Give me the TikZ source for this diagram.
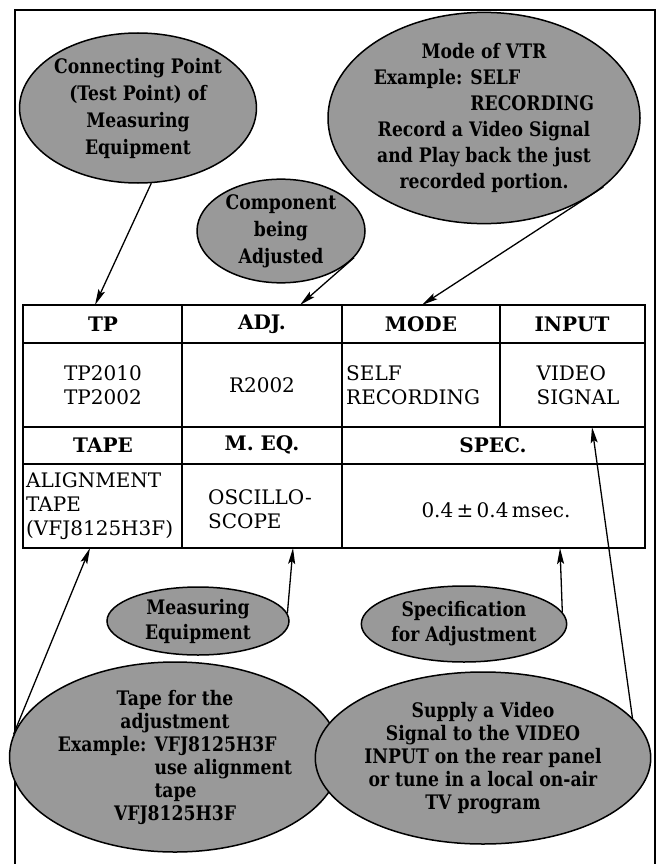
\documentclass[tikz,border=0pt]{standalone}
\usepackage{fontspec}
\setmainfont{DejaVu Serif}
\newfontfamily\notefont[FakeStretch=0.86]{DejaVu Serif}
\usepackage{tikz}
\usepackage{calc}
\usetikzlibrary{shapes}
\usetikzlibrary{arrows.meta}
\tikzstyle{note}=[ellipse,draw,line width=1.5pt,fill=black!40,inner sep=0pt,align=center,font=\notefont\fontsize{20}{25}\selectfont\bfseries]
\tikzstyle{cell}=[inner sep=0pt,align=center,font=\fontsize{20}{24}\selectfont]
\tikzstyle{head}=[cell,font=\fontsize{20}{24}\selectfont\bfseries]
\tikzstyle{rule}=[line width=1.5pt]
\newcommand{\ExLine}[2]{\makebox[\widthof{#2}][l]{#1}}

\begin{document}
\begin{tikzpicture}
	[x=1pt,y=-1pt,>={Stealth[length=16pt,width=7pt,inset=3pt]}]
	\tikzstyle{arrow}=[->,line width=1.3pt];
	\useasboundingbox (0,0) rectangle (662,864);
	% frame
	\draw[rule] (15,870) |- (655,10) -- (655,870);
	% table
	\draw[rule] (23,305) rectangle (645,548);
	\draw[rule] (23,343) -- (645,343);
	\draw[rule] (23,427) -- (645,427);
	\draw[rule] (23,464) -- (645,464);
	\draw[rule] (182,305) -- (182,548);
	\draw[rule] (342,305) -- (342,548);
	\draw[rule] (500,305) -- (500,427);
	\node[head] (tph) at (103,324) {TP};
	\node[head] (adjh) at (262,324) {ADJ.};
	\node[head] (modeh) at (421,324) {MODE};
	\node[head] (inh) at (572,324) {INPUT};
	\node[cell] (tpv) at (103,385) {TP2010\\TP2002};
	\node[cell] (adjv) at (262,385) {R2002};
	\node[cell,align=left,anchor=west] (modev) at (346,385) {SELF\\RECORDING};
	\node[cell,align=left] (inv) at (578,385) {VIDEO\\SIGNAL};
	\node[head] (tapeh) at (103,445) {TAPE};
	\node[head] (meqh) at (262,445) {M. EQ.};
	\node[head] (spech) at (493,445) {SPEC.};
	\node[cell,align=left,anchor=west] (tapev) at (26,506) {ALIGNMENT\\TAPE\\(VFJ8125H3F)};
	\node[cell,align=left] (meqv) at (260,509) {OSCILLO-\\SCOPE};
	\node[cell] (specv) at (496,510) {0.4\,±\,0.4\,msec.};
	% ends of the pointers
	\coordinate (tptop) at (95,305);
	\coordinate (adjtop) at (300,305);
	\coordinate (modetop) at (422,305);
	\coordinate (inbot) at (592,427);
	\coordinate (tapebot) at (90,548);
	\coordinate (meqbot) at (293,548);
	\coordinate (specbot) at (560,548);
	% notes
	\node[note,minimum width=212pt,minimum height=150pt,font=\notefont\fontsize{20}{27}\selectfont\bfseries] (tpnote) at (138,108)
		{Connecting Point\\(Test Point) of\\Measuring\\Equipment};
	\node[note,minimum width=168pt,minimum height=102pt,font=\notefont\fontsize{20}{27}\selectfont\bfseries] (adjnote) at (281,231)
		{Component\\being\\Adjusted};
	\node[note,minimum width=312pt,minimum height=180pt,font=\notefont\fontsize{20}{26}\selectfont\bfseries] (modenote) at (484,118)
		{Mode of VTR\\
		\ExLine{Example: SELF}{Example: RECORDING}\\
		\ExLine{\phantom{Example: }RECORDING}{Example: RECORDING}\\
		Record a Video Signal\\and Play back the just\\recorded portion.};
	\node[note,minimum width=182pt,minimum height=68pt] (meqnote) at (198,621)
		{Measuring\\Equipment};
	\node[note,minimum width=198pt,minimum height=76pt] (specnote) at (464,624)
		{Specification\\for Adjustment};
	\node[note,minimum width=286pt,minimum height=164pt,font=\notefont\fontsize{20}{23}\selectfont\bfseries] (tapenote) at (175,757)
		{Tape for the\\adjustment\\
		\ExLine{Example: VFJ8125H3F}{Example: use alignment}\\
		\ExLine{\phantom{Example: }use alignment}{Example: use alignment}\\
		\ExLine{\phantom{Example: }tape}{Example: use alignment}\\
		VFJ8125H3F};
	\node[note,minimum width=304pt,minimum height=172pt,font=\notefont\fontsize{20}{23}\selectfont\bfseries] (innote) at (483,758)
		{Supply a Video\\Signal to the VIDEO\\INPUT on the rear panel\\or tune in a local on-air\\TV program};
	\path[arrow]
		(tpnote.-80) edge (tptop)
		(adjnote.-20) edge (adjtop)
		(modenote.-30) edge (modetop)
		(innote.15) edge (inbot)
		(tapenote.172) edge (tapebot)
		(meqnote.5) edge (meqbot)
		(specnote.7) edge (specbot);
\end{tikzpicture}
\end{document}
